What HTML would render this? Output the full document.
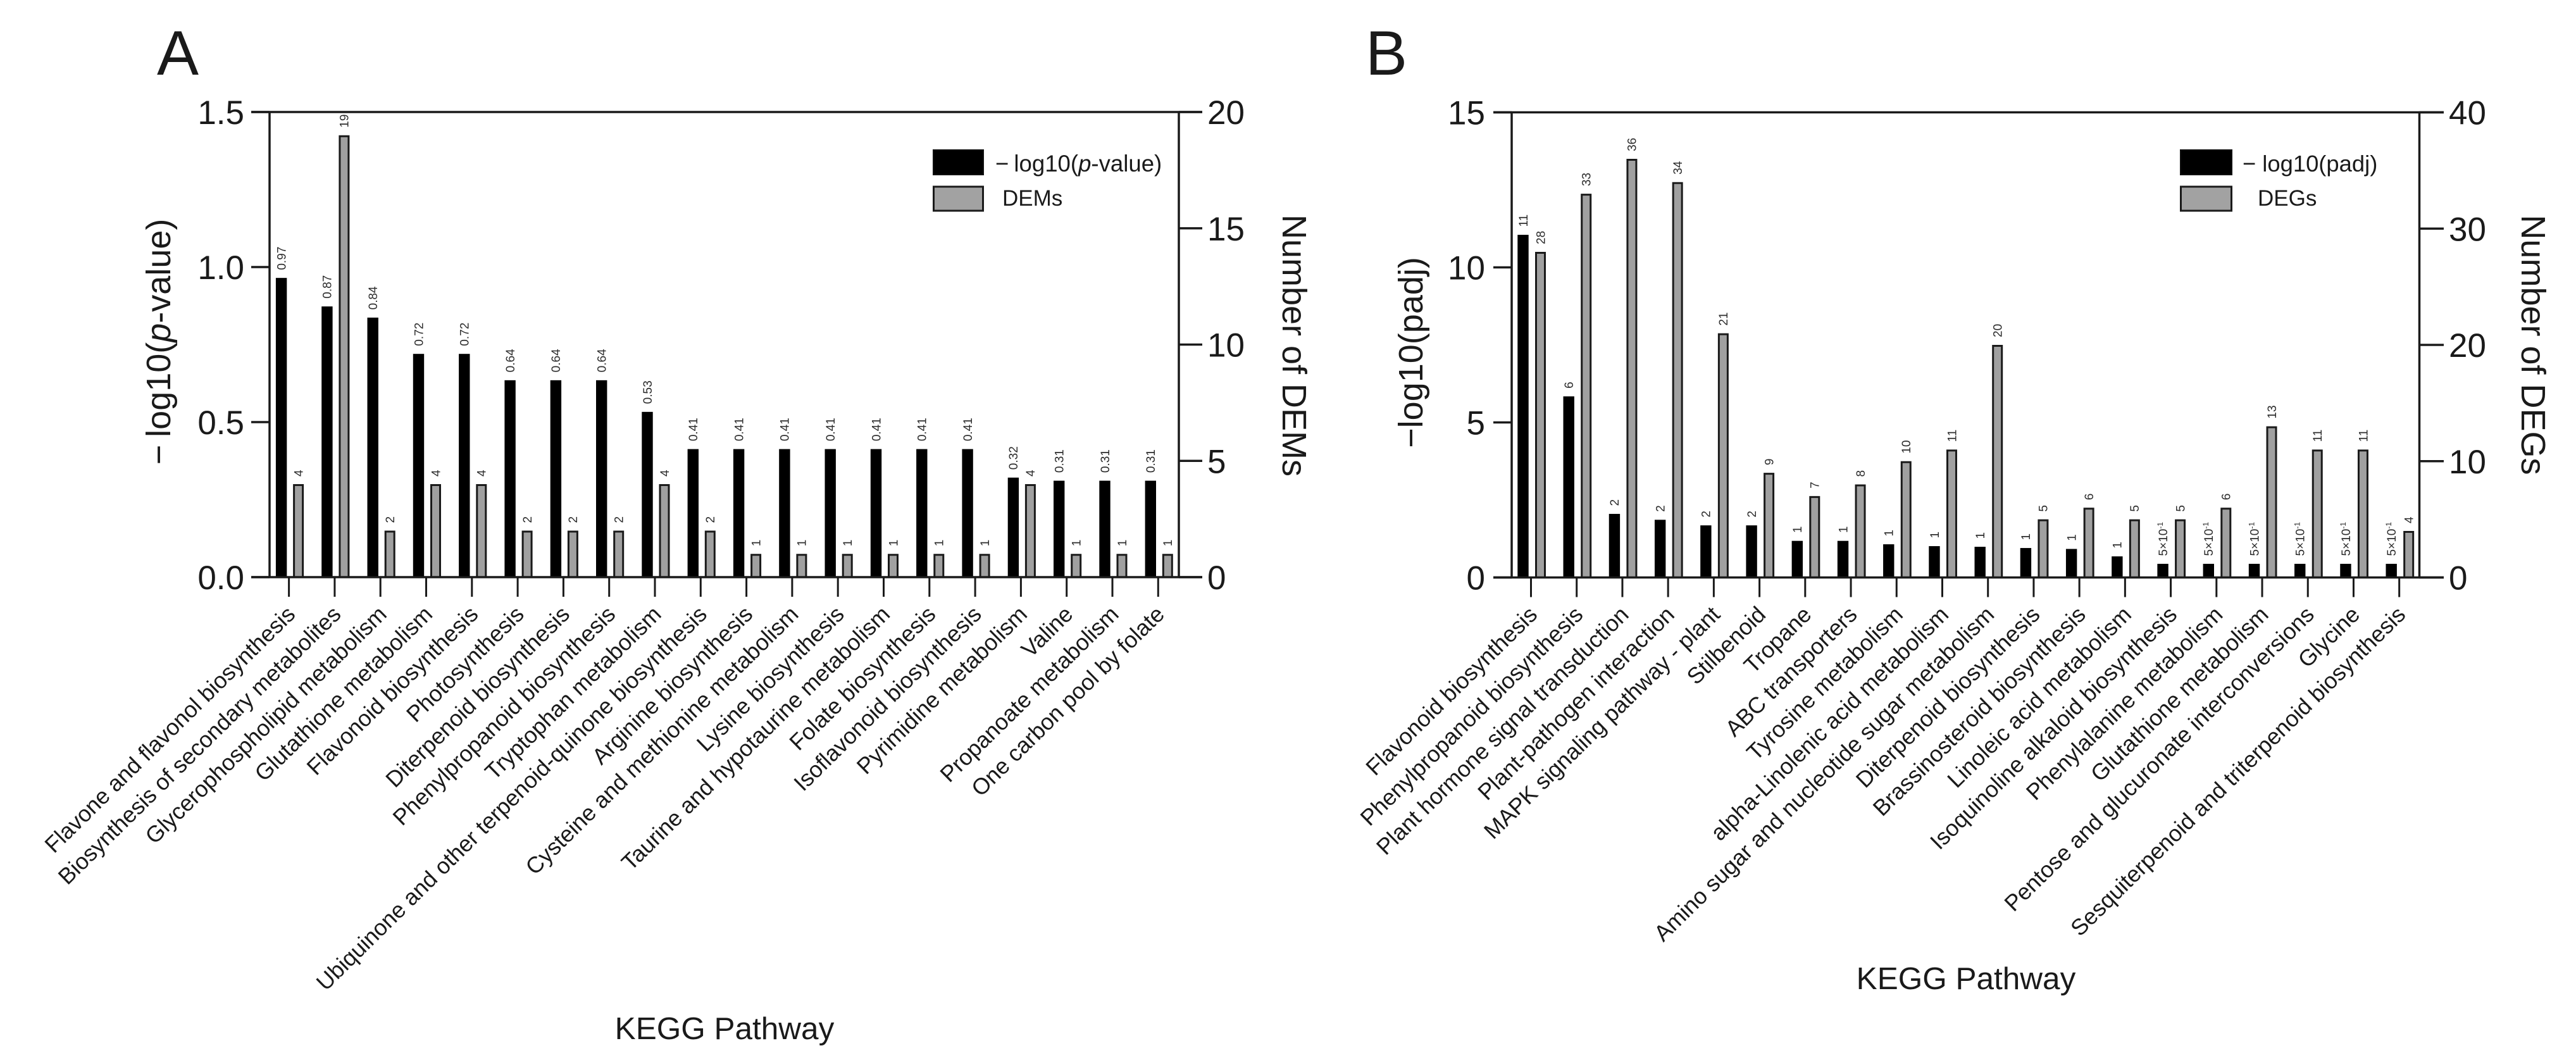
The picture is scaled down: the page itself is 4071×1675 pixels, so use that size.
<!DOCTYPE html>
<html lang="en">
<head>
<meta charset="utf-8">
<title>KEGG pathway enrichment charts</title>
<style>
html,body{margin:0;padding:0;background:#fff;}
body{width:4071px;height:1675px;overflow:hidden;}
svg{display:block;}
text{font-family:"Liberation Sans",Arial,sans-serif;fill:#1a1a1a;}
</style>
</head>
<body>
<svg id="figure" xmlns="http://www.w3.org/2000/svg" width="4071" height="1675" viewBox="0 0 4071 1675">
  <rect x="0" y="0" width="4071" height="1675" fill="#ffffff"/>
  <text x="248" y="118" font-size="99">A</text>
  <text x="2158" y="118" font-size="99">B</text>

  <g id="chart-a"></g>
  <g id="chart-b"></g>

  <text transform="translate(269,540) rotate(-90)" text-anchor="middle" font-size="54">−<tspan dx="12">log10(</tspan><tspan font-style="italic">p</tspan>-value)</text>
  <text transform="translate(2027,546) rotate(90)" text-anchor="middle" font-size="54">Number of DEMs</text>
  <text x="1145" y="1642" text-anchor="middle" font-size="49.5">KEGG Pathway</text>

  <rect x="1475" y="237" width="79" height="39" fill="#000" stroke="#111" stroke-width="2"/>
  <rect x="1475.5" y="295" width="78" height="38" fill="#a2a2a2" stroke="#1a1a1a" stroke-width="3"/>
  <text x="1573" y="271" font-size="36.6">−<tspan dx="8">log10(</tspan><tspan font-style="italic">p</tspan>-value)</text>
  <text x="1584" y="325" font-size="35">DEMs</text>

  <text transform="translate(2248,557) rotate(-90)" text-anchor="middle" font-size="54">−log10(padj)</text>
  <text transform="translate(3985,545) rotate(90)" text-anchor="middle" font-size="54">Number of DEGs</text>
  <text x="3107" y="1563" text-anchor="middle" font-size="49.5">KEGG Pathway</text>

  <rect x="3446" y="237" width="81" height="39" fill="#000" stroke="#111" stroke-width="2"/>
  <rect x="3446.5" y="295" width="80" height="38" fill="#a2a2a2" stroke="#1a1a1a" stroke-width="3"/>
  <text x="3544" y="271" font-size="36.4">−<tspan dx="10">log10(padj)</tspan></text>
  <text x="3568" y="325" font-size="35">DEGs</text>
</svg>

<script>
// ---------- Panel A data ----------
const categoriesA = [
  "Flavone and flavonol biosynthesis", "Biosynthesis of secondary metabolites",
  "Glycerophospholipid metabolism", "Glutathione metabolism",
  "Flavonoid biosynthesis", "Photosynthesis", "Diterpenoid biosynthesis",
  "Phenylpropanoid biosynthesis", "Tryptophan metabolism",
  "Ubiquinone and other terpenoid-quinone biosynthesis", "Arginine biosynthesis",
  "Cysteine and methionine metabolism", "Lysine biosynthesis",
  "Taurine and hypotaurine metabolism", "Folate biosynthesis",
  "Isoflavonoid biosynthesis", "Pyrimidine metabolism", "Valine",
  "Propanoate metabolism", "One carbon pool by folate"
];
const pValuesA = [0.965, 0.873, 0.837, 0.72, 0.72, 0.635, 0.635, 0.635, 0.533, 0.413, 0.413, 0.413, 0.413, 0.413, 0.413, 0.413, 0.321, 0.311, 0.311, 0.311];
const pLabelsA = ["0.97", "0.87", "0.84", "0.72", "0.72", "0.64", "0.64", "0.64", "0.53", "0.41", "0.41", "0.41", "0.41", "0.41", "0.41", "0.41", "0.32", "0.31", "0.31", "0.31"];
const demCountsA = [4, 19, 2, 4, 4, 2, 2, 2, 4, 2, 1, 1, 1, 1, 1, 1, 4, 1, 1, 1];
const leftTicksA = [0, 0.5, 1, 1.5];
const leftTickLabelsA = ["0.0", "0.5", "1.0", "1.5"];
const rightTicksA = [0, 5, 10, 15, 20];
const rightTickLabelsA = ["0", "5", "10", "15", "20"];

// ---------- Panel B data ----------
const categoriesB = [
  "Flavonoid biosynthesis", "Phenylpropanoid biosynthesis",
  "Plant hormone signal transduction", "Plant-pathogen interaction",
  "MAPK signaling pathway - plant", "Stilbenoid", "Tropane", "ABC transporters",
  "Tyrosine metabolism", "alpha-Linolenic acid metabolism",
  "Amino sugar and nucleotide sugar metabolism", "Diterpenoid biosynthesis",
  "Brassinosteroid biosynthesis", "Linoleic acid metabolism",
  "Isoquinoline alkaloid biosynthesis", "Phenylalanine metabolism",
  "Glutathione metabolism", "Pentose and glucuronate interconversions", "Glycine",
  "Sesquiterpenoid and triterpenoid biosynthesis"
];
const padjValuesB = [11.05, 5.84, 2.05, 1.86, 1.68, 1.68, 1.18, 1.18, 1.07, 1.01, 0.99, 0.95, 0.92, 0.68, 0.44, 0.44, 0.44, 0.44, 0.44, 0.44];
const padjLabelsB = ["11", "6", "2", "2", "2", "2", "1", "1", "1", "1", "1", "1", "1", "1", "5×10^-1", "5×10^-1", "5×10^-1", "5×10^-1", "5×10^-1", "5×10^-1"];
const degCountsB = [28, 33, 36, 34, 21, 9, 7, 8, 10, 11, 20, 5, 6, 5, 5, 6, 13, 11, 11, 4];
const leftTicksB = [0, 5, 10, 15];
const leftTickLabelsB = ["0", "5", "10", "15"];
const rightTicksB = [0, 10, 20, 30, 40];
const rightTickLabelsB = ["0", "10", "20", "30", "40"];

const SVG_NS = "http://www.w3.org/2000/svg";
const STROKE = "#1a1a1a";

function make(tag, attrs, parent) {
  const el = document.createElementNS(SVG_NS, tag);
  for (const k in attrs) el.setAttribute(k, attrs[k]);
  parent.appendChild(el);
  return el;
}

function drawPanel(root, layout, data) {
  const yLeft = v => layout.baseY - (v / data.leftMax) * (layout.baseY - layout.topY);
  const yRight = v => layout.baseY - (v / data.rightMax) * (layout.baseY - layout.topY);
  const xTick = i => layout.firstTick + i * layout.tickStep;

  data.categories.forEach((name, i) => {
    const tx = xTick(i);

    // black bar
    const bx = tx + layout.blackOffset;
    const by = yLeft(data.blackValues[i]);
    const black = make("rect", {x: bx - 8.7, y: by, width: 17.4, height: layout.baseY - by, fill: "#000"}, root);
    
    

    const blackLabel = make("text", {transform: `translate(${bx + 6.8},${by - 12.5}) rotate(-90)`, "font-size": 19, style: "fill:#2c2c2c"}, root);
    
    
    const parts = data.blackLabels[i].split("^");
    blackLabel.textContent = parts[0];
    if (parts[1]) {
      const sup = make("tspan", {dy: -7, "font-size": 12}, blackLabel);
      sup.textContent = parts[1];
    }

    // gray bar
    const gx = tx + layout.grayOffset;
    const gy = yRight(data.grayValues[i]);
    const gray = make("rect", {x: gx - 7, y: gy + 1.5, width: 14, height: layout.baseY - gy - 1.5, fill: "#a0a0a0", stroke: STROKE, "stroke-width": 3}, root);
    
    

    const grayLabel = make("text", {transform: `translate(${gx + 6.8},${gy - 12}) rotate(-90)`, "font-size": 19, style: "fill:#2c2c2c"}, root);
    
    
    grayLabel.textContent = String(data.grayValues[i]);

    // category tick
    const tick = make("line", {x1: tx, x2: tx, y1: layout.baseY, y2: layout.baseY + 31, stroke: STROKE, "stroke-width": 3}, root);
    
    

    // category label
    const label = make("text", {transform: `translate(${tx + 12},${layout.baseY + 61}) rotate(-44.5)`, "text-anchor": "end", "font-size": 35.8}, root);
    
    
    label.textContent = name;
  });

  // axis lines
  const topLine = make("line", {x1: layout.leftTickX, x2: layout.rightTickX, y1: layout.topY, y2: layout.topY, stroke: STROKE, "stroke-width": 3.5}, root);
  
  

  const baseLine = make("line", {x1: layout.leftTickX, x2: layout.rightTickX, y1: layout.baseY, y2: layout.baseY, stroke: STROKE, "stroke-width": 3.5}, root);
  
  

  const leftAxis = make("line", {x1: layout.leftX, x2: layout.leftX, y1: layout.topY, y2: layout.baseY, stroke: STROKE, "stroke-width": 3.5}, root);
  
  

  const rightAxis = make("line", {x1: layout.rightX, x2: layout.rightX, y1: layout.topY, y2: layout.baseY, stroke: STROKE, "stroke-width": 3.5}, root);
  
  

  // left ticks
  data.leftTicks.forEach((v, i) => {
    const y = yLeft(v);
    const t = make("line", {x1: layout.leftTickX, x2: layout.leftX, y1: y, y2: y, stroke: STROKE, "stroke-width": 3.5}, root);
    
    
    const lab = make("text", {x: layout.leftLabelX, y: y + 19, "text-anchor": "end", "font-size": 53}, root);
    
    
    lab.textContent = data.leftTickLabels[i];
  });

  // right ticks
  data.rightTicks.forEach((v, i) => {
    const y = yRight(v);
    const t = make("line", {x1: layout.rightX, x2: layout.rightTickX, y1: y, y2: y, stroke: STROKE, "stroke-width": 3.5}, root);
    
    
    const lab = make("text", {x: layout.rightLabelX, y: y + 19, "font-size": 53}, root);
    
    
    lab.textContent = data.rightTickLabels[i];
  });
}

drawPanel(document.getElementById("chart-a"),
  {baseY: 912, topY: 177, firstTick: 456.6, tickStep: 72.3, blackOffset: -12, grayOffset: 15,
   leftX: 426, rightX: 1863, leftTickX: 397, rightTickX: 1900, leftLabelX: 386, rightLabelX: 1908},
  {categories: categoriesA, blackValues: pValuesA, blackLabels: pLabelsA, grayValues: demCountsA,
   leftMax: 1.5, rightMax: 20, leftTicks: leftTicksA, leftTickLabels: leftTickLabelsA,
   rightTicks: rightTicksA, rightTickLabels: rightTickLabelsA});

drawPanel(document.getElementById("chart-b"),
  {baseY: 912.5, topY: 177.5, firstTick: 2419.5, tickStep: 72.22, blackOffset: -12.5, grayOffset: 15,
   leftX: 2389, rightX: 3823.5, leftTickX: 2360, rightTickX: 3862, leftLabelX: 2347, rightLabelX: 3870},
  {categories: categoriesB, blackValues: padjValuesB, blackLabels: padjLabelsB, grayValues: degCountsB,
   leftMax: 15, rightMax: 40, leftTicks: leftTicksB, leftTickLabels: leftTickLabelsB,
   rightTicks: rightTicksB, rightTickLabels: rightTickLabelsB});
</script>
</body>
</html>
